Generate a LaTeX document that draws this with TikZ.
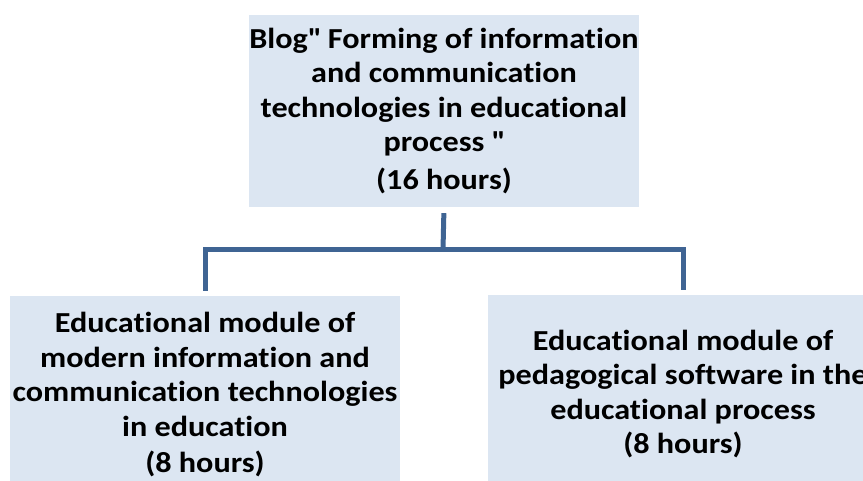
\documentclass[tikz,border=0pt]{standalone}
\usepackage{fontspec}
\setmainfont{Carlito}[FakeStretch=1.11, Ligatures=NoCommon]
\usetikzlibrary{positioning}

\definecolor{boxfill}{HTML}{DCE6F2}
\definecolor{linkblue}{HTML}{3F6493}

\begin{document}
\begin{tikzpicture}[x=1pt, y=-1pt,
    box/.style={fill=boxfill, minimum width=390pt, align=center, inner sep=0pt,
        font=\fontsize{29}{34.5}\selectfont\bfseries},
    link/.style={draw=linkblue, line width=5pt}]
        \useasboundingbox (0,0) rectangle (863,481);
        \clip (0,0) rectangle (863,481);

        % course and its two modules
        \node[box, minimum height=192pt] (blog) at (444,111)
            {Blog\textquotedbl{} Forming of information\\and communication\\technologies in educational\\process \textquotedbl\\[3pt](16 hours)};
        \node[box, minimum height=198pt] (ict) at (205,395)
            {Educational module of\\modern information and\\communication technologies\\in education\\[2pt](8 hours)};
        \node[box, minimum height=198pt] (soft) at (683,394)
            {Educational module of\\pedagogical software in the\\educational process\\(8 hours)};

        % tree connector
        \coordinate (split) at (443,250);
        \draw[link, shorten <=6pt] (blog.south) -- (split);
        \draw[link, shorten >=5pt] (split) -| (ict.north);
        \draw[link, shorten >=5pt] (split) -| (soft.north);
    \end{tikzpicture}
\end{document}
